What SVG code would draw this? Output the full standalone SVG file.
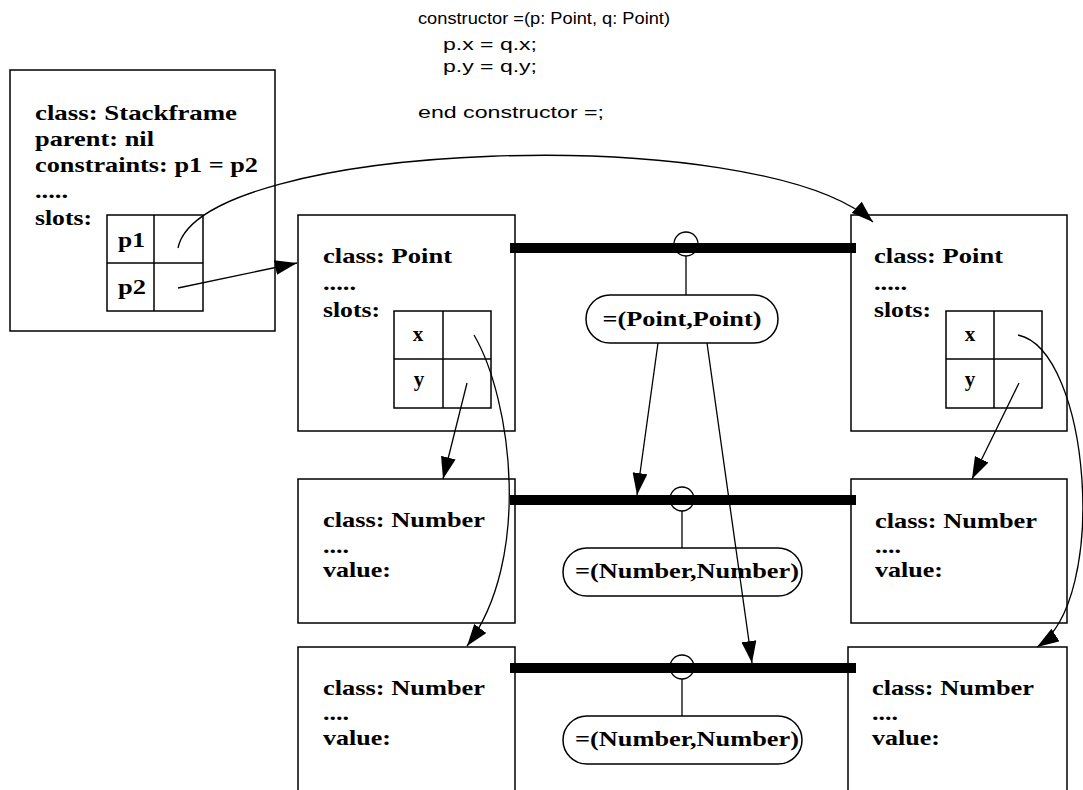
<svg xmlns="http://www.w3.org/2000/svg" width="1083" height="790" viewBox="0 0 1083 790">
<defs>
<style>
.box{fill:#fff;stroke:#000;stroke-width:1.5}
.cell{fill:none;stroke:#000;stroke-width:1.5}
.t{font-family:"Liberation Serif","Times New Roman",serif;font-weight:bold;font-size:21px;fill:#000}
.code{font-family:"Liberation Sans",Arial,sans-serif;font-size:17px;fill:#000}
.bar{stroke:#000;stroke-width:10;fill:none}
.thin{stroke:#000;stroke-width:1.3;fill:none}
.oval{fill:#fff;stroke:#000;stroke-width:1.5}
.conn{stroke:#000;stroke-width:1.3;fill:none}
</style>
<marker id="ah" viewBox="0 0 22 15" refX="22" refY="7.5" markerWidth="22" markerHeight="15" markerUnits="userSpaceOnUse" orient="auto">
<path d="M0,0 L22,7.5 L0,15 Z" fill="#000"/>
</marker>
</defs>
<rect width="1083" height="790" fill="#fff"/>

<g id="code">
<text class="code" x="418" y="24" textLength="252" lengthAdjust="spacingAndGlyphs">constructor =(p: Point, q: Point)</text>
<text class="code" x="443" y="50" textLength="94" lengthAdjust="spacingAndGlyphs">p.x = q.x;</text>
<text class="code" x="443" y="72" textLength="94" lengthAdjust="spacingAndGlyphs">p.y = q.y;</text>
<text class="code" x="418" y="118" textLength="186" lengthAdjust="spacingAndGlyphs">end constructor =;</text>
</g>

<g id="stackframe">
<rect class="box" x="10" y="70" width="265" height="261"/>
<text class="t" x="35" y="120" textLength="202" lengthAdjust="spacingAndGlyphs">class: Stackframe</text>
<text class="t" x="35" y="146" textLength="119" lengthAdjust="spacingAndGlyphs">parent: nil</text>
<text class="t" x="35" y="172" textLength="223" lengthAdjust="spacingAndGlyphs">constraints: p1 = p2</text>
<text class="t" x="35" y="198" textLength="33" lengthAdjust="spacingAndGlyphs">.....</text>
<text class="t" x="35" y="225" textLength="57" lengthAdjust="spacingAndGlyphs">slots:</text>
<rect class="cell" x="107" y="215" width="96" height="96"/>
<line class="cell" x1="154" y1="215" x2="154" y2="311"/>
<line class="cell" x1="107" y1="263" x2="203" y2="263"/>
<text class="t" x="118" y="247" textLength="27" lengthAdjust="spacingAndGlyphs">p1</text>
<text class="t" x="118" y="294" textLength="28" lengthAdjust="spacingAndGlyphs">p2</text>
</g>

<g id="point-left">
<rect class="box" x="298" y="215" width="217" height="216"/>
<text class="t" x="323" y="263" textLength="129" lengthAdjust="spacingAndGlyphs">class: Point</text>
<text class="t" x="323" y="290" textLength="33" lengthAdjust="spacingAndGlyphs">.....</text>
<text class="t" x="323" y="317" textLength="57" lengthAdjust="spacingAndGlyphs">slots:</text>
<rect class="cell" x="394" y="311" width="97" height="97"/>
<line class="cell" x1="443" y1="311" x2="443" y2="408"/>
<line class="cell" x1="394" y1="359" x2="491" y2="359"/>
<text class="t" x="418" y="341" text-anchor="middle">x</text>
<text class="t" x="419" y="386" text-anchor="middle">y</text>
</g>

<g id="point-right">
<rect class="box" x="851" y="215" width="216" height="216"/>
<text class="t" x="874" y="263" textLength="129" lengthAdjust="spacingAndGlyphs">class: Point</text>
<text class="t" x="874" y="290" textLength="33" lengthAdjust="spacingAndGlyphs">.....</text>
<text class="t" x="874" y="317" textLength="57" lengthAdjust="spacingAndGlyphs">slots:</text>
<rect class="cell" x="946" y="311" width="96" height="97"/>
<line class="cell" x1="994" y1="311" x2="994" y2="408"/>
<line class="cell" x1="946" y1="359" x2="1042" y2="359"/>
<text class="t" x="970" y="341" text-anchor="middle">x</text>
<text class="t" x="970" y="386" text-anchor="middle">y</text>
</g>

<g id="number-left-1">
<rect class="box" x="298" y="479" width="217" height="144"/>
<text class="t" x="323" y="527" textLength="162" lengthAdjust="spacingAndGlyphs">class: Number</text>
<text class="t" x="323" y="553" textLength="26" lengthAdjust="spacingAndGlyphs">....</text>
<text class="t" x="323" y="577" textLength="68" lengthAdjust="spacingAndGlyphs">value:</text>
</g>

<g id="number-left-2">
<rect class="box" x="298" y="647" width="217" height="160"/>
<text class="t" x="323" y="695" textLength="162" lengthAdjust="spacingAndGlyphs">class: Number</text>
<text class="t" x="323" y="720" textLength="26" lengthAdjust="spacingAndGlyphs">....</text>
<text class="t" x="323" y="745" textLength="68" lengthAdjust="spacingAndGlyphs">value:</text>
</g>

<g id="number-right-1">
<rect class="box" x="851" y="479" width="216" height="144"/>
<text class="t" x="875" y="528" textLength="162" lengthAdjust="spacingAndGlyphs">class: Number</text>
<text class="t" x="875" y="553" textLength="26" lengthAdjust="spacingAndGlyphs">....</text>
<text class="t" x="875" y="577" textLength="68" lengthAdjust="spacingAndGlyphs">value:</text>
</g>

<g id="number-right-2">
<rect class="box" x="848" y="647" width="219" height="160"/>
<text class="t" x="872" y="695" textLength="162" lengthAdjust="spacingAndGlyphs">class: Number</text>
<text class="t" x="872" y="720" textLength="26" lengthAdjust="spacingAndGlyphs">....</text>
<text class="t" x="872" y="745" textLength="68" lengthAdjust="spacingAndGlyphs">value:</text>
</g>

<g id="constraint-point">
<line class="bar" x1="510" y1="248" x2="856" y2="248"/>
<circle class="thin" cx="686" cy="244" r="12"/>
<line class="thin" x1="686" y1="256" x2="686" y2="295"/>
<rect class="oval" x="586" y="295" width="192" height="48" rx="24"/>
<text class="t" x="682" y="326" text-anchor="middle" textLength="159" lengthAdjust="spacingAndGlyphs">=(Point,Point)</text>
</g>

<g id="constraint-number-1">
<line class="bar" x1="510" y1="500" x2="856" y2="500"/>
<circle class="thin" cx="682" cy="499" r="12"/>
<line class="thin" x1="682" y1="511" x2="682" y2="548"/>
<rect class="oval" x="563" y="548" width="239" height="48" rx="24"/>
<text class="t" x="687" y="578" text-anchor="middle" textLength="224" lengthAdjust="spacingAndGlyphs">=(Number,Number)</text>
</g>

<g id="constraint-number-2">
<line class="bar" x1="510" y1="668" x2="856" y2="668"/>
<circle class="thin" cx="682" cy="667" r="12"/>
<line class="thin" x1="682" y1="679" x2="682" y2="716"/>
<rect class="oval" x="563" y="716" width="239" height="48" rx="24"/>
<text class="t" x="687" y="746" text-anchor="middle" textLength="224" lengthAdjust="spacingAndGlyphs">=(Number,Number)</text>
</g>

<g id="connectors">
<path class="conn" d="M178,248 C200,140 760,120 873,222" marker-end="url(#ah)"/>
<path class="conn" d="M178,288 L297,263" marker-end="url(#ah)"/>
<path class="conn" d="M474,335 C512,400 532,560 467,646" marker-end="url(#ah)"/>
<path class="conn" d="M467,383 L443,479" marker-end="url(#ah)"/>
<path class="conn" d="M1018,335 C1090,350 1110,600 1037,647" marker-end="url(#ah)"/>
<path class="conn" d="M1019,383 L972,479" marker-end="url(#ah)"/>
<path class="conn" d="M658,343 L637,495" marker-end="url(#ah)"/>
<path class="conn" d="M707,343 L752,663" marker-end="url(#ah)"/>
</g>
</svg>
